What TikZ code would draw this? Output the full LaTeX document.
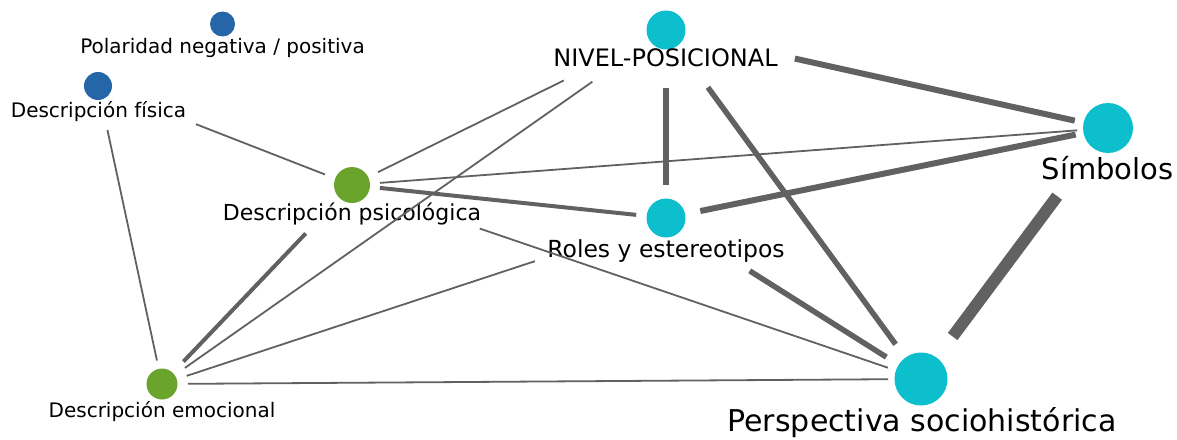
\documentclass[tikz,border=0pt]{standalone}
\usepackage{fontspec}
\setmainfont{DejaVu Sans}
\definecolor{azul}{HTML}{2566A8}
\definecolor{verde}{HTML}{6AA42C}
\definecolor{cian}{HTML}{0DBFCD}
\definecolor{arista}{HTML}{616161}
\begin{document}
\begin{tikzpicture}[x=1pt,y=-1pt,
	cod/.style={circle, inner sep=0pt, minimum size=#1},
	etq/.style={anchor=base, inner sep=0pt, font=\fontsize{#1}{#1}\selectfont},
	rel/.style={draw=arista, line width=#1}]
	\useasboundingbox (0,0) rectangle (1177,439);
	% codigos
	\node (pol) at (222.5, 24)	[cod=25pt, fill=azul]	{};
	\node (fis) at (98, 86)	[cod=28pt, fill=azul]	{};
	\node (psi) at (352, 185)	[cod=36pt, fill=verde]	{};
	\node (emo) at (162, 384)	[cod=31pt, fill=verde]	{};
	\node (niv) at (666, 30)	[cod=39pt, fill=cian]	{};
	\node (rol) at (666, 218)	[cod=39pt, fill=cian]	{};
	\node (sim) at (1108, 128)	[cod=50pt, fill=cian]	{};
	\node (per) at (921, 379)	[cod=53pt, fill=cian]	{};
	% etiquetas
	\node (polT) at (222.5, 53)	[etq=20]	{Polaridad negativa / positiva};
	\node (fisT) at (98.5, 117)	[etq=20]	{Descripción física};
	\node (psiT) at (352, 220)	[etq=22]	{Descripción psicológica};
	\node (emoT) at (162, 417)	[etq=20]	{Descripción emocional};
	\node (nivT) at (665.5, 66)	[etq=24]	{NIVEL-POSICIONAL};
	\node (rolT) at (666, 257)	[etq=23.5]	{Roles y estereotipos};
	\node (simT) at (1107.5, 179)	[etq=29]	{Símbolos};
	\node (perT) at (922, 431)	[etq=30]	{Perspectiva sociohistórica};
	% relaciones
	\draw[rel=1.8pt, shorten <=105pt, shorten >=29pt] (fis.center) -- (psi.center);
	\draw[rel=1.8pt, shorten <=45pt, shorten >=24pt] (fis.center) -- (emo.center);
	\draw[rel=1.8pt, shorten <=29pt, shorten >=114pt] (psi.center) -- (niv.center);
	\draw[rel=1.8pt, shorten <=28pt, shorten >=90pt] (emo.center) -- (niv.center);
	\draw[rel=4pt, shorten <=31pt, shorten >=67pt] (emo.center) -- (psi.center);
	\draw[rel=1.8pt, shorten <=28pt, shorten >=31pt] (psi.center) -- (sim.center);
	\draw[rel=4pt, shorten <=28pt, shorten >=30pt] (psi.center) -- (rol.center);
	\draw[rel=1.8pt, shorten <=135pt, shorten >=35pt] (psi.center) -- (per.center);
	\draw[rel=1.8pt, shorten <=26pt, shorten >=138pt] (emo.center) -- (rol.center);
	\draw[rel=1.8pt, shorten <=26pt, shorten >=33pt] (emo.center) -- (per.center);
	\draw[rel=5.5pt, shorten <=58pt, shorten >=33pt] (niv.center) -- (rol.center);
	\draw[rel=6pt, shorten <=132pt, shorten >=34pt] (niv.center) -- (sim.center);
	\draw[rel=5.5pt, shorten <=71pt, shorten >=43pt] (niv.center) -- (per.center);
	\draw[rel=6pt, shorten <=35pt, shorten >=33pt] (rol.center) -- (sim.center);
	\draw[rel=5.5pt, shorten <=99pt, shorten >=41pt] (rol.center) -- (per.center);
	\draw[rel=12pt, shorten <=85pt, shorten >=53pt] (sim.center) -- (per.center);
\end{tikzpicture}
\end{document}
